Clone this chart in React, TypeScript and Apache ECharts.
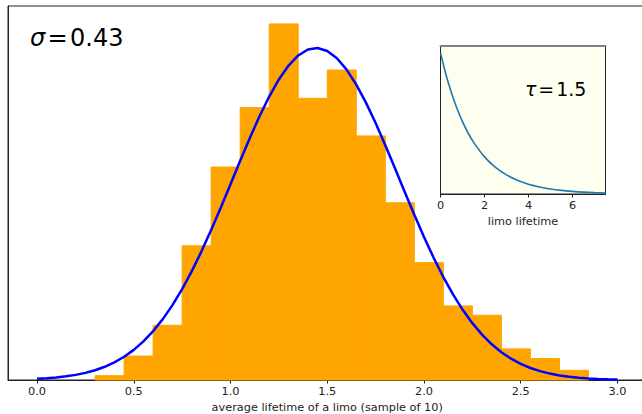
import React, { useEffect, useRef } from "react";
import * as echarts from "echarts";

// Histogram (normalised density), bin width 0.15
const binEdges = [0.3, 0.45, 0.6, 0.75, 0.9, 1.05, 1.2, 1.35, 1.5, 1.65, 1.8, 1.95, 2.1, 2.25, 2.4, 2.55, 2.7, 2.85];
const binDensity = [0.012, 0.067, 0.153, 0.375, 0.595, 0.761, 0.995, 0.787, 0.866, 0.682, 0.495, 0.328, 0.207, 0.181, 0.087, 0.06, 0.027];

// Fitted normal curve
const curveX = [0, 0.05, 0.1, 0.15, 0.2, 0.25, 0.3, 0.35, 0.4, 0.45, 0.5, 0.55, 0.6, 0.65, 0.7, 0.75, 0.8, 0.85, 0.9, 0.95, 1.0, 1.05, 1.1, 1.15, 1.2, 1.25, 1.3, 1.35, 1.4, 1.45, 1.5, 1.55, 1.6, 1.65, 1.7, 1.75, 1.8, 1.85, 1.9, 1.95, 2.0, 2.05, 2.1, 2.15, 2.2, 2.25, 2.3, 2.35, 2.4, 2.45, 2.5, 2.55, 2.6, 2.65, 2.7, 2.75, 2.8, 2.85, 2.9, 2.95, 3.0];
const curveY = [0.0034, 0.0049, 0.0071, 0.0102, 0.0143, 0.0199, 0.0273, 0.0369, 0.0493, 0.0649, 0.0842, 0.108, 0.1365, 0.1701, 0.2093, 0.2541, 0.3043, 0.3595, 0.4194, 0.4822, 0.5472, 0.6124, 0.6764, 0.7368, 0.7921, 0.8398, 0.8786, 0.9068, 0.9234, 0.9276, 0.9194, 0.899, 0.8672, 0.8254, 0.775, 0.7179, 0.6561, 0.5916, 0.5262, 0.4618, 0.3997, 0.3414, 0.2877, 0.2391, 0.1961, 0.1588, 0.1267, 0.0998, 0.0776, 0.0595, 0.045, 0.0336, 0.0247, 0.0179, 0.0128, 0.0091, 0.0063, 0.0044, 0.003, 0.002, 0.0013];

// Inset: exponential lifetime distribution
const insetX = [0, 0.25, 0.5, 0.75, 1.0, 1.25, 1.5, 2.0, 2.5, 3.0, 3.5, 4.0, 4.5, 5.0, 5.5, 6.0, 6.5, 7.0, 7.5];
const insetY = [0.6667, 0.5643, 0.4777, 0.4043, 0.3423, 0.2897, 0.2453, 0.1757, 0.1259, 0.0902, 0.0646, 0.0463, 0.0332, 0.0238, 0.017, 0.0122, 0.0087, 0.0063, 0.0045];

const mainTicks = [0, 0.5, 1.0, 1.5, 2.0, 2.5, 3.0];

const FONT = "DejaVu Sans";
const FS = 11.3;

export default function App() {
  const ref = useRef<HTMLDivElement>(null);
  useEffect(() => {
    if (!ref.current) return;
    const chart = echarts.init(ref.current, undefined, { renderer: "svg" });
    const histData = binDensity.map((d, i) => [binEdges[i], binEdges[i + 1], d]);
    const option: any = {
      animation: false,
      grid: [
        { left: 8, top: 6, width: 638.5, height: 374, show: true, borderColor: "#222", borderWidth: 1, backgroundColor: "transparent", outerBoundsMode: "none", containLabel: false },
        { left: 440.5, top: 46, width: 165, height: 148, show: true, borderColor: "#222", borderWidth: 1, backgroundColor: "#fffff0", z: 5, outerBoundsMode: "none", containLabel: false },
      ],
      xAxis: [
        {
          type: "value", gridIndex: 0, min: -0.15, max: 3.15,
          axisLine: { show: true, onZero: false, lineStyle: { color: "#222", width: 1 } },
          axisTick: { show: true, customValues: mainTicks, length: 3.5, lineStyle: { color: "#222" } },
          axisLabel: { show: true, customValues: mainTicks, formatter: (v: number) => v.toFixed(1), margin: 6, fontFamily: FONT, fontSize: FS, color: "#222" },
          splitLine: { show: false },
          name: "average lifetime of a limo (sample of 10)", nameLocation: "middle", nameGap: 22,
          nameTextStyle: { fontFamily: FONT, fontSize: FS, color: "#222" },
        },
        {
          type: "value", gridIndex: 1, min: 0, max: 7.5, interval: 2,
          axisLine: { show: true, onZero: false, lineStyle: { color: "#222", width: 1 } },
          axisTick: { show: true, length: 3.5, lineStyle: { color: "#222" } },
          axisLabel: { show: true, showMaxLabel: false, margin: 6, fontFamily: FONT, fontSize: FS, color: "#222" },
          splitLine: { show: false },
          name: "limo lifetime", nameLocation: "middle", nameGap: 22,
          nameTextStyle: { fontFamily: FONT, fontSize: FS, color: "#222" },
          z: 6,
        },
        {
          type: "value", gridIndex: 1, min: 0, max: 7.5, position: "top",
          axisLine: { show: true, onZero: false, lineStyle: { color: "#808080", width: 2 } },
          axisTick: { show: false }, axisLabel: { show: false }, splitLine: { show: false },
          z: 6,
        },
      ],
      yAxis: [
        {
          type: "value", gridIndex: 0, min: 0, max: 1.045,
          axisLine: { show: true, onZero: false, lineStyle: { color: "#222" } },
          axisTick: { show: false }, axisLabel: { show: false }, splitLine: { show: false },
        },
        {
          type: "value", gridIndex: 1, min: 0, max: 0.7,
          axisLine: { show: true, onZero: false, lineStyle: { color: "#222" } },
          axisTick: { show: false }, axisLabel: { show: false }, splitLine: { show: false },
          z: 6,
        },
      ],
      series: [
        {
          type: "custom", xAxisIndex: 0, yAxisIndex: 0, z: 2,
          data: histData,
          encode: { x: [0, 1], y: 2 },
          renderItem: (params: any, api: any) => {
            const p0 = api.coord([api.value(0), api.value(2)]);
            const p1 = api.coord([api.value(1), 0]);
            return {
              type: "rect",
              shape: { x: p0[0], y: p0[1], width: p1[0] - p0[0], height: p1[1] - p0[1] },
              style: { fill: "#ffa500", stroke: "#ffa500", lineWidth: 1 },
            };
          },
        },
        {
          type: "line", xAxisIndex: 0, yAxisIndex: 0, z: 3,
          data: curveX.map((x, i) => [x, curveY[i]]),
          smooth: false, showSymbol: false, symbol: "none",
          lineStyle: { color: "#0000ff", width: 2.5 },
        },
        {
          type: "line", xAxisIndex: 1, yAxisIndex: 1, z: 10,
          data: insetX.map((x, i) => [x, insetY[i]]),
          smooth: 0.3, showSymbol: false, symbol: "none",
          lineStyle: { color: "#1f77b4", width: 1.6 },
        },
      ],
      graphic: [
        {
          type: "text", left: 30, top: 26, z: 20,
          style: {
            text: "{i|σ}\u200A=\u200A0.43",
            fontFamily: FONT, fontSize: 24, fill: "#000",
            rich: { i: { fontFamily: FONT, fontSize: 24, fontStyle: "italic", fill: "#000" } },
          },
        },
        {
          type: "text", left: 525, top: 79, z: 20,
          style: {
            text: "{i|τ}\u200A=\u200A1.5",
            fontFamily: FONT, fontSize: 19, fill: "#000",
            rich: { i: { fontFamily: FONT, fontSize: 19, fontStyle: "italic", fill: "#000" } },
          },
        },
      ],
    };
    chart.setOption(option);
    return () => chart.dispose();
  }, []);
  return (
    <div
      ref={ref}
      style={{ position: "fixed", left: 0, top: 0, width: 642, height: 414, background: "#fff" }}
    />
  );
}
